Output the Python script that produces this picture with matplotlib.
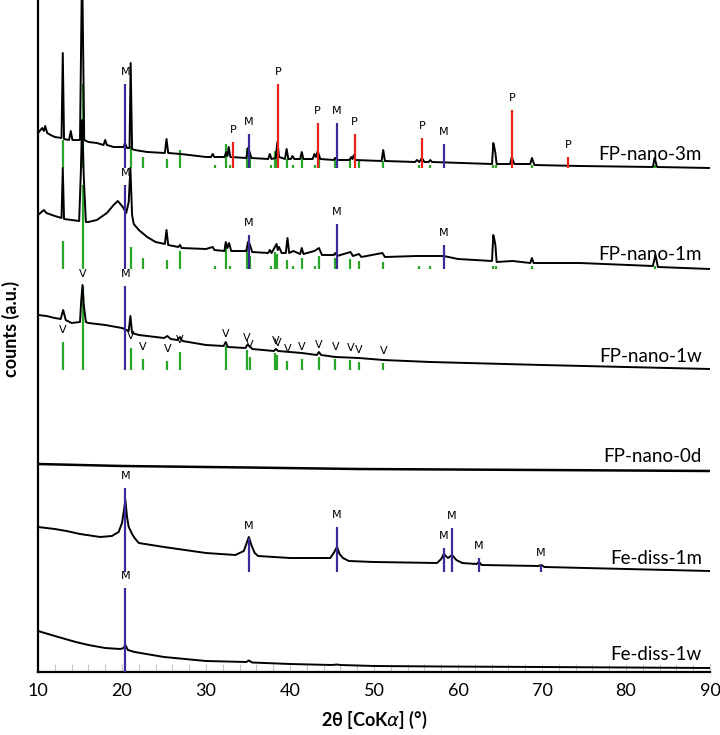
import numpy as np
import matplotlib.pyplot as plt

# ---------------------------------------------------------------------------
# XRD patterns (2theta in deg, counts in a.u. incl. stacking offset)
# ---------------------------------------------------------------------------
NANO_3M_2T = [10, 10.5, 10.7, 10.85, 11.1, 11.5, 12, 12.8, 12.95, 13.1, 13.7, 13.9, 14.1,
              15.0, 15.25, 15.5, 16, 17, 17.8, 18.0, 18.2, 19, 20.2, 20.35, 20.6, 20.9,
              21.03, 21.2, 21.5, 23, 25.1, 25.3, 25.5, 27, 30, 30.6, 30.8, 31.0, 32.2,
              32.4, 32.55, 32.7, 32.9, 34.8, 35.0, 35.15, 35.4, 37.4, 37.6, 37.8, 38.3,
              38.5, 38.7, 39.4, 39.6, 39.8, 40.1, 40.3, 40.5, 41.2, 41.4, 41.6, 42.7,
              42.9, 43.1, 43.3, 43.6, 45.2, 45.4, 45.6, 47.1, 47.3, 47.45, 47.6, 47.8,
              50.9, 51.1, 51.3, 54.9, 55.1, 55.4, 55.7, 56.0, 56.5, 56.7, 56.9, 64.05,
              64.2, 64.32, 64.45, 64.6, 66.2, 66.4, 66.7, 68.6, 68.8, 69.1, 74.5, 83.2,
              83.4, 83.7, 90]
NANO_3M_I = [539, 544, 541, 546, 539, 537, 535, 534, 619, 533, 532, 541, 532,
             532, 712, 532, 530, 529, 527, 532, 527, 525, 525, 529, 524, 524,
             609, 523, 522, 520, 519, 533, 519, 518, 515, 515, 518, 515, 515,
             520, 516, 525, 515, 514, 524, 521, 514, 513, 518, 513, 514,
             530, 515, 513, 523, 513, 513, 516, 513, 513, 520, 513, 513,
             518, 515, 521, 513, 512, 514, 512, 512, 515, 513, 517, 512,
             511, 522, 511, 510, 512, 510, 514, 510, 510, 512, 510, 508,
             529, 525, 519, 508, 508, 515, 508, 508, 514, 507, 506, 505,
             514, 505, 504]

NANO_1M_2T = [10, 10.7, 11.0, 12, 12.8, 12.95, 13.1, 14, 14.9, 15.1, 15.25, 15.45, 15.7,
              16, 17, 18.2, 19, 19.5, 20.1, 20.5, 20.8, 21.0, 21.2, 21.4, 22, 23, 24,
              25.1, 25.3, 25.5, 26.7, 26.9, 27.1, 30, 30.8, 31, 32.2, 32.35, 32.55,
              32.75, 33.0, 34.8, 35.0, 35.2, 35.5, 37.4, 37.6, 37.8, 38.4, 38.55, 38.7,
              39.0, 39.5, 39.7, 39.9, 40.4, 41.2, 41.4, 41.6, 42.9, 43.45, 43.8, 45.2,
              45.4, 45.6, 47.2, 47.5, 48.2, 48.5, 51.0, 51.3, 55.1, 56.7, 58.3, 60,
              64.05, 64.2, 64.32, 64.45, 64.6, 66.5, 68.6, 68.8, 69.0, 74.5, 83.2, 83.5,
              83.8, 90]
NANO_1M_I = [457, 462, 459, 456, 454, 504, 453, 452, 451, 500, 552, 495, 450,
             450, 452, 459, 467, 471, 465, 459, 470, 504, 457, 448, 442, 435, 430,
             428, 442, 427, 425, 427, 424, 423, 425, 422, 421, 430, 424,
             429, 421, 421, 430, 428, 420, 419, 422, 419, 428, 422, 425,
             419, 419, 434, 419, 421, 418, 424, 418, 421, 424, 417, 417,
             419, 416, 420, 416, 418, 415, 419, 415, 416, 416, 416, 413,
             411, 437, 433, 427, 410, 411, 409, 414, 409, 409, 406, 417,
             405, 403]

NANO_1W_2T = [10, 11, 12, 12.7, 13.0, 13.3, 14, 15.0, 15.15, 15.3, 15.45, 15.7, 16, 18,
              20, 20.8, 21.0, 21.2, 22, 25, 25.4, 25.8, 26.6, 26.9, 27.2, 30, 32.1,
              32.35, 32.6, 34.7, 34.9, 35.2, 35.5, 38.1, 38.3, 38.6, 41.4, 43.2, 43.45,
              43.7, 45.4, 48.2, 51.1, 56.7, 70, 80, 90]
NANO_1W_I = [357, 356, 354, 353, 362, 352, 349, 350, 372, 387, 367, 350, 349, 347,
             344, 341, 356, 339, 337, 334, 336, 333, 332, 335, 331, 327, 326,
             330, 325, 324, 327, 326, 323, 321, 323, 321, 319, 317, 320,
             317, 315, 314, 312, 310, 307, 305, 303]

NANO_0D_2T = [10, 20, 35, 48, 70, 90]
NANO_0D_I = [208, 206, 204.5, 203, 202, 201]

DISS_1M_2T = [10, 12, 13.4, 15, 17.4, 18.8, 19.6, 20.0, 20.2, 20.4, 20.6, 20.8, 21.2,
              21.5, 22, 25, 30, 33.5, 34.5, 34.8, 35.1, 35.4, 35.8, 36.2, 40, 44.8, 45.2,
              45.6, 45.9, 46.3, 47, 50, 57.5, 58.0, 58.3, 58.8, 59.3, 59.8, 60.5, 62.2,
              62.5, 62.8, 69.6, 69.9, 70.3, 80, 90]
DISS_1M_I = [145, 143, 141, 138, 135, 136, 140, 149, 160, 172, 155, 145, 138,
             134, 129, 125, 119, 117, 121, 128, 135, 127, 119, 116, 114, 114, 119,
             125, 118, 114, 111, 110, 109, 113, 118, 114, 117, 112, 109, 108,
             110, 107, 106, 107, 105, 103, 101]

DISS_1W_2T = [10, 12, 14.5, 16, 18, 19.8, 20.2, 20.4, 20.7, 21.5, 25, 30, 34.8, 35.1,
              35.5, 40, 45, 45.6, 46, 50, 58, 70, 90]
DISS_1W_I = [41, 36, 30, 27, 24, 23, 24, 27, 22, 20, 15, 11, 10, 11.5,
             9.5, 8, 7, 7.5, 7, 6, 5.5, 5, 4]

# reference sticks: position (2theta) and relative intensity (a.u.)
M_POS = [20.4, 35.1, 45.6, 58.3, 59.3, 62.5, 69.9]
M_INT = [84, 34, 45, 24, 44, 14, 7]
P_POS = [33.2, 38.6, 43.3, 47.7, 55.7, 66.4, 73.1]
P_INT = [26, 84, 45, 34, 30, 58, 11]
V_POS = [13.0, 15.3, 21.05, 22.5, 25.4, 26.9, 31.1, 32.35, 32.9, 34.85, 35.2, 37.7,
         38.25, 38.5, 39.7, 40.4, 41.4, 43.0, 43.45, 45.4, 47.2, 48.2, 51.1, 55.4,
         56.7, 64.2, 64.5, 68.8, 83.5]
V_INT = [28, 84, 22, 11, 9, 18, 3, 24, 3, 20, 13, 3,
         17, 15, 9, 3, 11, 3, 13, 11, 10, 8, 7, 3,
         3, 3, 3, 3, 3]

# name, 2theta, counts, stick base, n magnetite sticks, pyrite?, vivianite mode
SAMPLES = [
    ("FP-nano-3m", NANO_3M_2T, NANO_3M_I, 504, 4, True, "all"),
    ("FP-nano-1m", NANO_1M_2T, NANO_1M_I, 403, 4, False, "all"),
    ("FP-nano-1w", NANO_1W_2T, NANO_1W_I, 302, 1, False, "labelled"),
    ("FP-nano-0d", NANO_0D_2T, NANO_0D_I, None, 0, False, None),
    ("Fe-diss-1m", DISS_1M_2T, DISS_1M_I, 100, 7, False, None),
    ("Fe-diss-1w", DISS_1W_2T, DISS_1W_I, 0, 1, False, None),
]
LABEL_Y = [518, 417, 315, 215, 114, 18]

GREEN = "#2aa62a"
BLUE = "#3a2c98"
RED = "#e8231b"


def sticks(ax, pos, inten, base, color, label=None, fs=8):
    pos = np.asarray(pos)
    inten = np.asarray(inten)
    ax.vlines(pos, base, base + inten, color=color, lw=1.6, zorder=3 if color != GREEN else 1)
    if label:
        for p, h in zip(pos, inten):
            ax.annotate(label, (p, base + h), xytext=(0, 8.5), textcoords="offset points",
                        ha="center", va="center", fontsize=fs, color="black",
                        fontfamily="DejaVu Sans", zorder=4)


fig = plt.figure(figsize=(7.2, 7.35), dpi=100)
ax = fig.add_axes([38 / 720, 63 / 735, 672 / 720, 672 / 735])

for (name, tt, cts, base, n_m, pyr, viv), ly in zip(SAMPLES, LABEL_Y):
    ax.plot(tt, cts, color="black", lw=1.8 if name == "FP-nano-0d" else 1.4, zorder=2)
    if viv is not None:
        vp = np.array(V_POS)
        vi = np.array(V_INT)
        if viv == "labelled":
            keep = vi >= 5
            sticks(ax, vp[keep], vi[keep], base, GREEN, label="V", fs=8)
        else:
            sticks(ax, vp, vi, base, GREEN)
    if n_m:
        sticks(ax, M_POS[:n_m], M_INT[:n_m], base, BLUE, label="M", fs=8)
    if pyr:
        sticks(ax, P_POS, P_INT, base, RED, label="P", fs=8)
    ax.text(0.988, ly, name, transform=ax.get_yaxis_transform(), ha="right",
            va="center", fontsize=13.5, fontfamily="Lato")

ax.set_xlim(10, 90)
ax.set_ylim(0, 672)
ax.set_xticks(np.arange(10, 91, 10))
ax.set_xticks(np.arange(10, 91, 2), minor=True)
ax.tick_params(axis="x", which="both", direction="in", length=6, width=0.8,
               color="#c8c8c8", labelsize=13, pad=8)
ax.tick_params(axis="y", left=False, labelleft=False)
for lab in ax.get_xticklabels():
    lab.set_fontfamily("Lato")
for side in ("top", "right"):
    ax.spines[side].set_visible(False)
for side in ("left", "bottom"):
    ax.spines[side].set_linewidth(1.6)

ax.set_xlabel("2θ [CoK$\\alpha$] (°)", fontsize=13, fontweight="bold",
              fontfamily="Lato", labelpad=7)
ax.set_ylabel("counts (a.u.)", fontsize=13, fontweight="bold", fontfamily="Lato")
ax.yaxis.set_label_coords(-0.027, 0.51)

fig.savefig("out.png", dpi=100)
